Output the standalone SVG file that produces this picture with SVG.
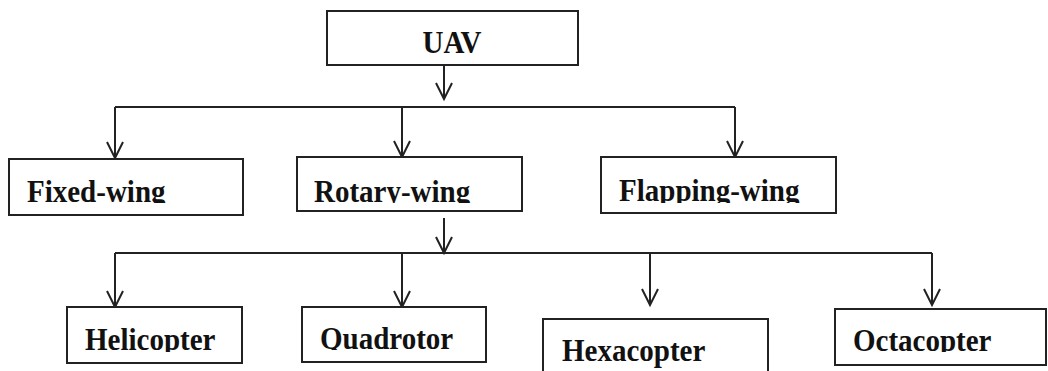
<svg xmlns="http://www.w3.org/2000/svg" width="1048" height="371" viewBox="0 0 1048 371">
<style>
.box{fill:#fff;stroke:#222;stroke-width:2}
.lbl{font-family:"Liberation Serif","Times New Roman",serif;font-weight:bold;font-size:29px;fill:#111}
.con{fill:none;stroke:#222;stroke-width:2}
</style>
<defs>
<marker id="arr" markerUnits="userSpaceOnUse" markerWidth="20" markerHeight="20" viewBox="-18 -10 20 20" refX="0" refY="0" orient="auto" overflow="visible">
<path d="M-16,-8 L0,0 L-16,8" fill="none" stroke="#222" stroke-width="2"/>
</marker>
<clipPath id="c2"><rect x="0" y="0" width="1048" height="203"/></clipPath>
<clipPath id="c3"><rect x="0" y="0" width="1048" height="352"/></clipPath>
<clipPath id="cq"><rect x="0" y="0" width="1048" height="350"/></clipPath>
</defs>
<rect width="1048" height="371" fill="#fff"/>
<g id="connectors">
<path class="con" d="M444,65 V99" marker-end="url(#arr)"/>
<path class="con" d="M115,107 H735"/>
<path class="con" d="M115,107 V158" marker-end="url(#arr)"/>
<path class="con" d="M402,107 V157" marker-end="url(#arr)"/>
<path class="con" d="M735,107 V157" marker-end="url(#arr)"/>
<path class="con" d="M444,218 V253" marker-end="url(#arr)"/>
<path class="con" d="M115,253 H932"/>
<path class="con" d="M115,253 V307" marker-end="url(#arr)"/>
<path class="con" d="M402,253 V307" marker-end="url(#arr)"/>
<path class="con" d="M650,253 V305" marker-end="url(#arr)"/>
<path class="con" d="M932,253 V305" marker-end="url(#arr)"/>
</g>
<g id="uav"><rect class="box" x="327" y="11" width="251" height="54"/><text class="lbl" transform="translate(452,53) scale(1,1.08)" text-anchor="middle">UAV</text></g>
<g id="fixed-wing"><rect class="box" x="9" y="159" width="234" height="56"/><g clip-path="url(#c2)"><text class="lbl" transform="translate(27,202) scale(1,1.08)">Fixed-wing</text></g></g>
<g id="rotary-wing"><rect class="box" x="297" y="157" width="225" height="54"/><g clip-path="url(#c2)"><text class="lbl" transform="translate(314,202) scale(1,1.08)">Rotary-wing</text></g></g>
<g id="flapping-wing"><rect class="box" x="601" y="157" width="235" height="56"/><g clip-path="url(#c2)"><text class="lbl" transform="translate(619,201) scale(1,1.08)">Flapping-wing</text></g></g>
<g id="helicopter"><rect class="box" x="67" y="307" width="175" height="56"/><g clip-path="url(#c3)"><text class="lbl" transform="translate(85,350) scale(1,1.08)">Helicopter</text></g></g>
<g id="quadrotor"><rect class="box" x="302" y="307" width="184" height="55"/><g clip-path="url(#cq)"><text class="lbl" transform="translate(320,349) scale(1,1.08)">Quadrotor</text></g></g>
<g id="hexacopter"><rect class="box" x="543" y="319" width="225" height="70"/><text class="lbl" transform="translate(562,361) scale(1,1.08)">Hexacopter</text></g>
<g id="octacopter"><rect class="box" x="835" y="309" width="211" height="56"/><g clip-path="url(#c3)"><text class="lbl" transform="translate(853,351) scale(1,1.08)">Octacopter</text></g></g>
</svg>
